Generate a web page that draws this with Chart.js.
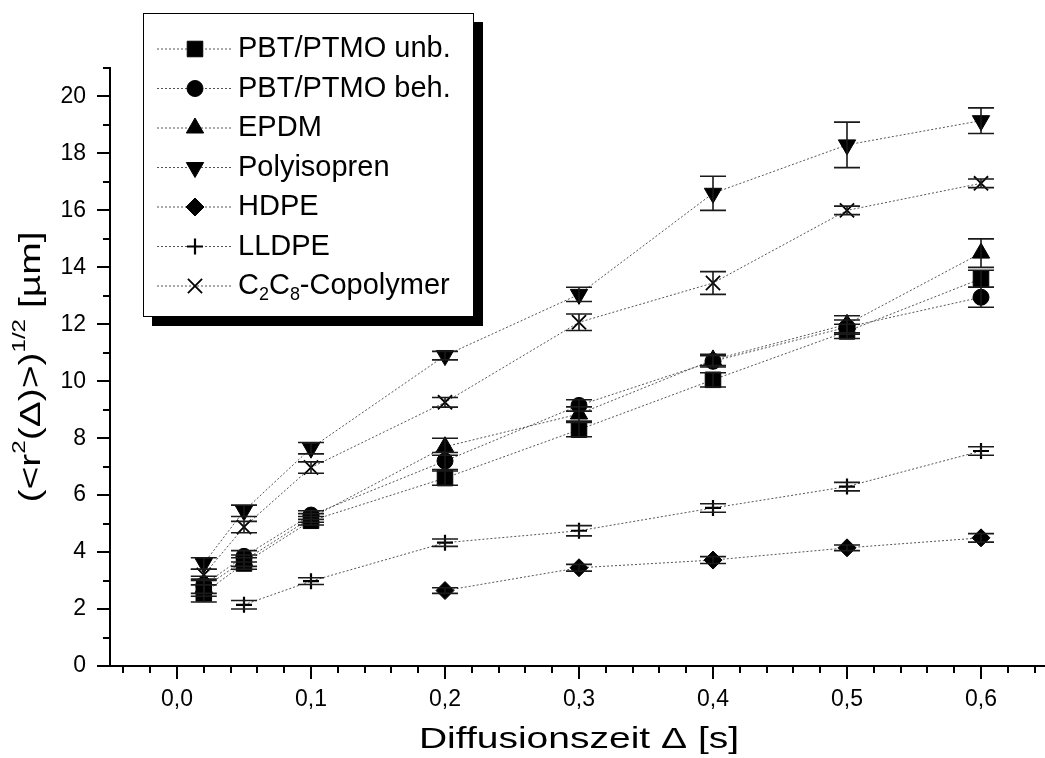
<!DOCTYPE html>
<html>
<head>
<meta charset="utf-8">
<script src="https://cdn.jsdelivr.net/npm/chart.js@4.4.1/dist/chart.umd.min.js"></script>
<style>
  html, body { margin: 0; padding: 0; background: #fff; overflow: hidden; }
  #chart-diff { display: block; }
</style>
</head>
<body>
<canvas id="chart-diff" width="1060" height="758"></canvas>
<script>
// diffusion times [s]
const times = [0.02, 0.05, 0.1, 0.2, 0.3, 0.4, 0.5, 0.6];
const timesHdpe = [0.2, 0.3, 0.4, 0.5, 0.6];
const timesLldpe = [0.05, 0.1, 0.2, 0.3, 0.4, 0.5, 0.6];

// (<r^2>)^1/2 [um] and error
const pbtUnb = [2.55, 3.6, 5.1, 6.6, 8.3, 10.05, 11.75, 13.6];
const pbtUnbErr = [0.3, 0.2, 0.15, 0.25, 0.25, 0.25, 0.25, 0.3];
const pbtBeh = [2.85, 3.85, 5.3, 7.2, 9.15, 10.7, 11.9, 12.95];
const pbtBehErr = [0.3, 0.2, 0.15, 0.3, 0.2, 0.2, 0.25, 0.35];
const epdm = [2.75, 3.7, 5.2, 7.7, 8.85, 10.75, 12.0, 14.5];
const epdmErr = [0.3, 0.2, 0.15, 0.3, 0.25, 0.2, 0.3, 0.5];
const polyisopren = [3.6, 5.45, 7.65, 10.9, 13.05, 16.6, 18.3, 19.15];
const polyisoprenErr = [0.2, 0.2, 0.2, 0.15, 0.25, 0.6, 0.8, 0.45];
const hdpe = [2.65, 3.45, 3.72, 4.15, 4.5];
const hdpeErr = [0.1, 0.12, 0.12, 0.1, 0.15];
const lldpe = [2.15, 2.98, 4.33, 4.75, 5.55, 6.3, 7.55];
const lldpeErr = [0.15, 0.12, 0.13, 0.18, 0.15, 0.15, 0.15];
const copolymer = [3.2, 4.88, 6.97, 9.26, 12.07, 13.45, 16.0, 16.95];
const copolymerErr = [0.2, 0.2, 0.2, 0.17, 0.29, 0.4, 0.15, 0.15];

const seriesLabels = ['PBT/PTMO unb.', 'PBT/PTMO beh.', 'EPDM', 'Polyisopren', 'HDPE', 'LLDPE', 'C2C8-Copolymer'];

const xTickValues = [0, 0.1, 0.2, 0.3, 0.4, 0.5, 0.6];
const xTickLabels = ['0,0', '0,1', '0,2', '0,3', '0,4', '0,5', '0,6'];
const yTickValues = [0, 2, 4, 6, 8, 10, 12, 14, 16, 18, 20];
const yTickLabels = ['0', '2', '4', '6', '8', '10', '12', '14', '16', '18', '20'];

const FONT = '"Liberation Sans", Arial, Helvetica, sans-serif';

const markers = [
    { pointStyle: 'rect', pointRadius: 11, pointRotation: 0 },
    { pointStyle: 'circle', pointRadius: 8, pointRotation: 0 },
    { pointStyle: 'triangle', pointRadius: 10, pointRotation: 0 },
    { pointStyle: 'triangle', pointRadius: 10, pointRotation: 180 },
    { pointStyle: 'rectRot', pointRadius: 9, pointRotation: 0 },
    { pointStyle: 'cross', pointRadius: 8, pointRotation: 0, pointBorderWidth: 2.2 },
    { pointStyle: 'crossRot', pointRadius: 10, pointRotation: 0, pointBorderWidth: 1.8 }
];

function makeSet(idx, xs, ys, errs) {
    return {
        label: seriesLabels[idx],
        data: xs.map((x, i) => ({ x, y: ys[i], err: errs[i] })),
        showLine: true,
        borderColor: '#555',
        borderWidth: 1,
        borderDash: [2, 2],
        pointBackgroundColor: '#000',
        pointBorderColor: '#000',
        pointBorderWidth: 1,
        ...markers[idx]
    };
}

function tickLabel(value, values, labels) {
    const i = values.findIndex((v) => Math.abs(v - value) < 1e-6);
    return i < 0 ? '' : labels[i];
}

// draws text with sub/superscripts, parts = [[text, shift]] (1 sup, -1 sub), sx = horizontal stretch
function drawRich(ctx, parts, x, y, size, sx = 1) {
    let cx = x;
    parts.forEach(([t, s]) => {
        ctx.font = (s ? size * 0.62 : size) + 'px ' + FONT;
        const dy = s > 0 ? -size * 0.42 : s < 0 ? size * 0.3 : 0;
        ctx.save();
        ctx.translate(cx, y + dy);
        ctx.scale(sx, 1);
        ctx.fillText(t, 0, 0);
        ctx.restore();
        cx += ctx.measureText(t).width * sx;
    });
    return cx - x;
}

function richWidth(ctx, parts, size, sx = 1) {
    return parts.reduce((sum, [t, s]) => {
        ctx.font = (s ? size * 0.62 : size) + 'px ' + FONT;
        return sum + ctx.measureText(t).width * sx;
    }, 0);
}

function labelParts(label) {
    return label.split(/(\d)/).filter((t) => t).map((t) => [t, /\d/.test(t) ? -1 : 0]);
}

const errorBars = {
    id: 'errorBars',
    afterDatasetsDraw(chart) {
        const { ctx, scales: { x, y } } = chart;
        ctx.save();
        ctx.strokeStyle = '#1a1a1a';
        ctx.lineWidth = 1.6;
        chart.data.datasets.forEach((ds) => {
            ds.data.forEach((p) => {
                const px = x.getPixelForValue(p.x);
                const top = y.getPixelForValue(p.y + p.err);
                const bot = y.getPixelForValue(p.y - p.err);
                ctx.beginPath();
                ctx.moveTo(px, top);
                ctx.lineTo(px, bot);
                ctx.moveTo(px - 13, top);
                ctx.lineTo(px + 13, top);
                ctx.moveTo(px - 13, bot);
                ctx.lineTo(px + 13, bot);
                ctx.stroke();
            });
        });
        ctx.restore();
    }
};

const axisTicks = {
    id: 'axisTicks',
    afterDraw(chart) {
        const { ctx, scales: { x, y } } = chart;
        ctx.save();
        ctx.strokeStyle = '#000';
        ctx.lineWidth = 2;
        ctx.beginPath();
        for (let v = 0; v <= 21; v++) {
            const py = Math.round(y.getPixelForValue(v));
            const len = v % 2 === 0 ? 13 : 7;
            ctx.moveTo(y.right - len, py);
            ctx.lineTo(y.right, py);
        }
        for (let i = -2; i <= 32; i++) {
            const px = Math.round(x.getPixelForValue(i * 0.02));
            const len = i % 5 === 0 ? 13 : 7;
            ctx.moveTo(px, x.top);
            ctx.lineTo(px, x.top + len);
        }
        ctx.stroke();
        ctx.restore();
    }
};

const titles = {
    id: 'titles',
    afterDraw(chart) {
        const { ctx, chartArea } = chart;
        ctx.save();
        ctx.fillStyle = '#000';
        ctx.textBaseline = 'middle';
        ctx.textAlign = 'left';
        const xParts = [['Diffusionszeit \u0394 [s]', 0]];
        const xw = richWidth(ctx, xParts, 30, 1.3);
        drawRich(ctx, xParts, (chartArea.left + chartArea.right) / 2 - xw / 2, 740, 30, 1.3);

        // rotated y title
        const yParts = [['(<r', 0], ['2', 1], ['(\u0394)>)', 0], ['1/2', 1], [' [\u00b5m]', 0]];
        const yw = richWidth(ctx, yParts, 30, 1.3);
        ctx.translate(32, (chartArea.top + chartArea.bottom) / 2);
        ctx.rotate(-Math.PI / 2);
        drawRich(ctx, yParts, -yw / 2, 0, 30, 1.3);
        ctx.restore();
    }
};

const boxLegend = {
    id: 'boxLegend',
    afterDraw(chart) {
        const { ctx } = chart;
        const box = { left: 143, top: 13, right: 474, bottom: 317, shadow: 9 };
        ctx.save();
        ctx.fillStyle = '#000';
        ctx.fillRect(box.left + box.shadow, box.top + box.shadow, box.right - box.left, box.bottom - box.top);
        ctx.fillStyle = '#fff';
        ctx.fillRect(box.left, box.top, box.right - box.left, box.bottom - box.top);
        ctx.strokeStyle = '#000';
        ctx.lineWidth = 1;
        ctx.strokeRect(box.left + 0.5, box.top + 0.5, box.right - box.left - 1, box.bottom - box.top - 1);

        chart.data.datasets.forEach((ds, i) => {
            const rowY = 49 + i * 39.5;
            ctx.strokeStyle = '#555';
            ctx.lineWidth = 1;
            ctx.setLineDash([2, 2]);
            ctx.beginPath();
            ctx.moveTo(157, rowY);
            ctx.lineTo(233, rowY);
            ctx.stroke();
            ctx.setLineDash([]);
            ctx.fillStyle = '#000';
            ctx.strokeStyle = '#000';
            ctx.lineWidth = ds.pointBorderWidth;
            Chart.helpers.drawPoint(ctx, {
                pointStyle: ds.pointStyle,
                radius: ds.pointRadius,
                rotation: ds.pointRotation,
                borderWidth: ds.pointBorderWidth
            }, 195, rowY);
            ctx.textBaseline = 'middle';
            ctx.textAlign = 'left';
            drawRich(ctx, labelParts(ds.label), 238, rowY, 29);
        });
        ctx.restore();
    }
};

const diffChart = new Chart(document.getElementById('chart-diff'), {
    type: 'scatter',
    data: {
        datasets: [
            makeSet(0, times, pbtUnb, pbtUnbErr),
            makeSet(1, times, pbtBeh, pbtBehErr),
            makeSet(2, times, epdm, epdmErr),
            makeSet(3, times, polyisopren, polyisoprenErr),
            makeSet(4, timesHdpe, hdpe, hdpeErr),
            makeSet(5, timesLldpe, lldpe, lldpeErr),
            makeSet(6, times, copolymer, copolymerErr)
        ]
    },
    options: {
        responsive: false,
        animation: false,
        layout: { padding: { top: 68, right: 5, bottom: 0, left: 0 } },
        plugins: {
            legend: { display: false },
            tooltip: { enabled: false }
        },
        scales: {
            x: {
                type: 'linear',
                min: -0.05,
                max: 0.65,
                grid: { display: false, drawTicks: false },
                border: { display: true, color: '#000', width: 2 },
                ticks: {
                    padding: 20,
                    color: '#000',
                    font: { family: FONT, size: 23 },
                    maxRotation: 0,
                    autoSkip: false,
                    callback: (v) => tickLabel(v, xTickValues, xTickLabels)
                },
                afterBuildTicks: (scale) => { scale.ticks = xTickValues.map((value) => ({ value })); },
                afterFit: (scale) => { scale.height = 92; }
            },
            y: {
                min: 0,
                max: 21,
                grid: { display: false, drawTicks: false },
                border: { display: true, color: '#000', width: 2 },
                ticks: {
                    padding: 24,
                    color: '#000',
                    font: { family: FONT, size: 23 },
                    autoSkip: false,
                    callback: (v) => tickLabel(v, yTickValues, yTickLabels)
                },
                afterBuildTicks: (scale) => { scale.ticks = yTickValues.map((value) => ({ value })); },
                afterFit: (scale) => { scale.width = 110; }
            }
        }
    },
    plugins: [errorBars, axisTicks, titles, boxLegend]
});
</script>
</body>
</html>
